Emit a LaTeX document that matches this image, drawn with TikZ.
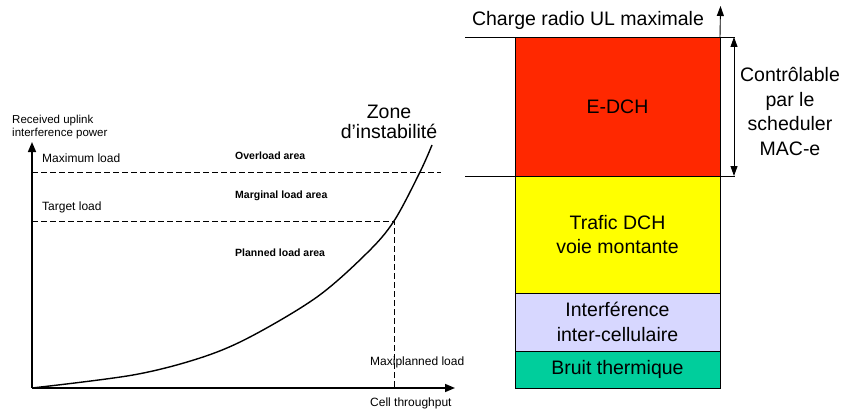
\documentclass[tikz,border=0pt]{standalone}
\usepackage{fontspec}
\setmainfont{Liberation Sans}
\usepackage{xcolor}
\usepackage{tikz}
\usetikzlibrary{arrows.meta,positioning,calc}

\definecolor{edchred}{RGB}{255,40,0}
\definecolor{dchyellow}{RGB}{255,255,0}
\definecolor{interlav}{RGB}{215,215,255}
\definecolor{bruitteal}{RGB}{0,206,156}

\tikzset{
  bar/.style={draw, line width=0.9pt, inner sep=0pt, outer sep=0pt, minimum width=205pt, align=center, font=\fontsize{19.5}{24.5}\selectfont},
  small/.style={inner sep=0pt, anchor=west, align=left, font=\fontsize{12}{13.5}\selectfont},
  area/.style={inner sep=0pt, anchor=west, font=\fontsize{10.5}{12}\selectfont\bfseries},
  big/.style={inner sep=0pt, align=center, font=\fontsize{19.5}{20.5}\selectfont},
  limit/.style={line width=0.8pt, dash pattern=on 6pt off 3pt},
  tip/.style={-{Triangle[width=8pt,length=10pt]}}
}

\begin{document}
\begin{tikzpicture}[x=1pt, y=-1pt]
    \useasboundingbox (0,0) rectangle (845,409);

    % axes
    \coordinate (O) at (32,388);
    \coordinate (ytip) at (32,142);
    \coordinate (xtip) at (455,388);
    \draw[tip, line width=1.6pt] (O) -- (ytip);
    \draw[tip, line width=1.6pt] (O) -- (xtip);
    \node[small, font=\fontsize{11.5}{13}\selectfont] (ylab) at (12,127) {Received uplink\\interference power};
    \node[small] (xlab) at (370,403) {Cell throughput};

    % load limits
    \coordinate (maxA) at (32,172);
    \coordinate (maxB) at (441,172);
    \coordinate (tgtA) at (32,221);
    \coordinate (tgtB) at (394,221);
    \coordinate (tgtfoot) at (394,388);
    \draw[limit] (maxA) -- (maxB);
    \draw[limit] (tgtA) -- (tgtB) -- (tgtfoot);
    \node[small] (maxlab) at (42,158) {Maximum load};
    \node[small] (tgtlab) at (42,207) {Target load};
    \node[small] (planlab) at (370,362) {Maxiplanned load};

    % areas
    \node[area] (over) at (235,156) {Overload area};
    \node[area] (marg) at (235,196) {Marginal load area};
    \node[area] (plan) at (235,253) {Planned load area};

    % load curve
    \draw[line width=1.4pt] plot[smooth, tension=0.55] coordinates
      {(32,388) (133,375) (200,358) (250,337) (317,297) (367,253) (394,221) (420,172) (432,145)};
    \node[big] (zone) at (389,122) {Zone\\d’instabilité};

    % E-DCH box
    \node[bar, fill=edchred, minimum height=139pt] (edch) at (617.5,106.5) {E-DCH};
    % DCH box
    \node[bar, fill=dchyellow, minimum height=117pt, below=0pt of edch] (dch) {Trafic DCH\\voie montante};
    % interference box
    \node[bar, fill=interlav, minimum height=58pt, below=0pt of dch] (inter) {Interférence\\inter-cellulaire};
    % noise box
    \node[bar, fill=bruitteal, minimum height=37pt, below=0pt of inter] (bruit) {Bruit thermique};

    % maximum load
    \coordinate (topL) at (465,37);
    \coordinate (topR) at (735,37);
    \coordinate (midL) at (465,176);
    \coordinate (midR) at (735,176);
    \draw[line width=0.6pt] (topL) -- (topR);
    \draw[line width=0.6pt] (midL) -- (midR);
    \coordinate (chargetip) at (720.5,6);
    \draw[line width=0.9pt, -{Triangle[width=7pt,length=10pt]}] (edch.north east) -- (chargetip);
    \node[big] (charge) at (588,20) {Charge radio UL maximale};

    % scheduler range
    \coordinate (ctrltop) at (734,37);
    \coordinate (ctrlbot) at (734,176);
    \draw[line width=0.9pt, {Triangle[width=7pt,length=10pt]}-{Triangle[width=7pt,length=10pt]}] (ctrltop) -- (ctrlbot);
    \node[bar, draw=none, minimum width=0pt] (ctrl) at (790,111.5) {Contrôlable\\par le\\scheduler\\MAC-e};
\end{tikzpicture}
\end{document}
